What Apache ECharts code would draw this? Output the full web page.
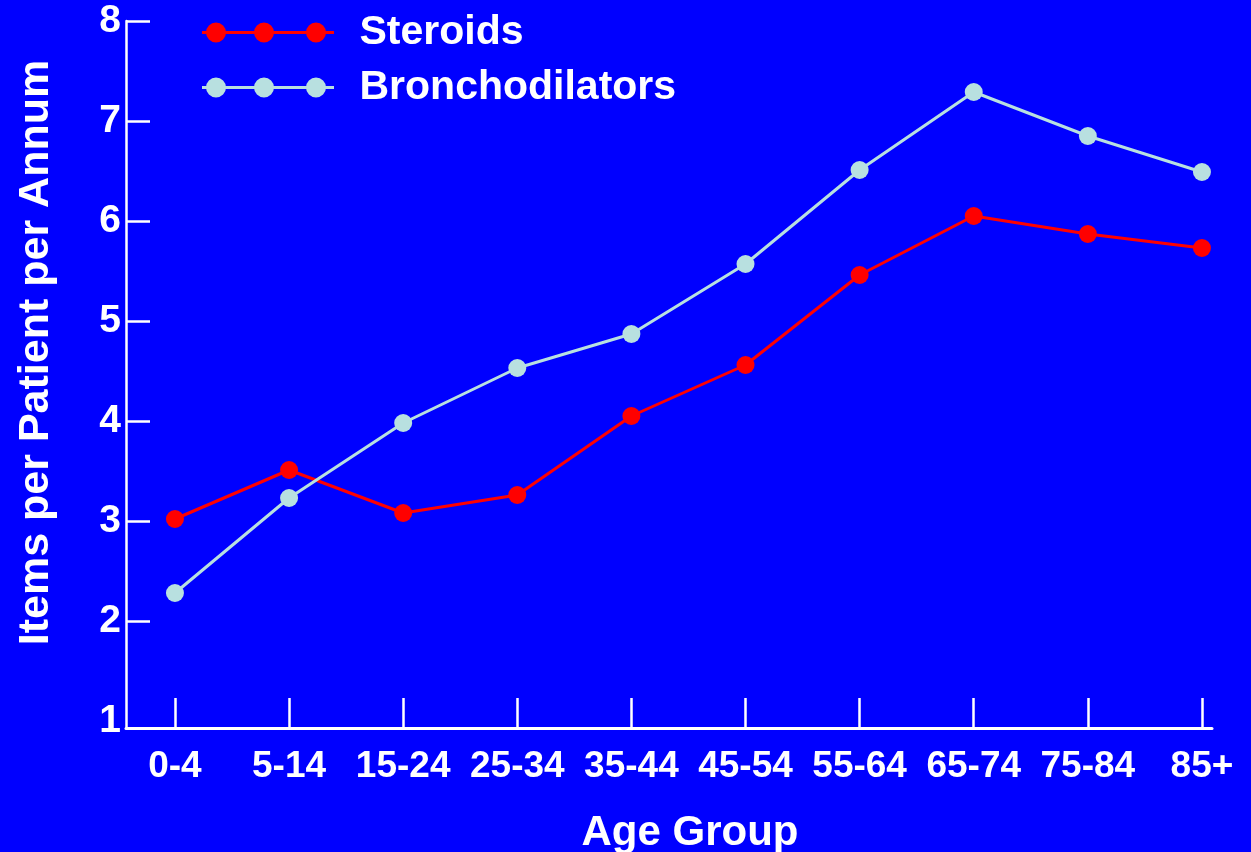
<!DOCTYPE html>
<html>
<head>
<meta charset="utf-8">
<script src="https://cdn.jsdelivr.net/npm/echarts@6/dist/echarts.min.js"></script>
<style>
html,body{margin:0;padding:0;background:#0000ff;}
#chart{width:1251px;height:852px;}
</style>
</head>
<body>
<div id="chart"></div>
<script>
const categories = ['0-4','5-14','15-24','25-34','35-44','45-54','55-64','65-74','75-84','85+'];
const steroids = [3.02, 3.51, 3.08, 3.26, 4.05, 4.56, 5.46, 6.05, 5.87, 5.73];
const bronchodilators = [2.28, 3.23, 3.98, 4.53, 4.87, 5.57, 6.51, 7.29, 6.85, 6.49];
const yTickLabels = [1, 2, 3, 4, 5, 6, 7, 8];
const yTicks = [2, 3, 4, 5, 6, 7, 8];

const FONT = '"Liberation Sans", Arial, Helvetica, sans-serif';
const legendIcon = 'path://M0 8.5H132V11.5H0Z M4 10A10 10 0 1 1 24 10A10 10 0 1 1 4 10Z M52 10A10 10 0 1 1 72 10A10 10 0 1 1 52 10Z M104 10A10 10 0 1 1 124 10A10 10 0 1 1 104 10Z';

const chart = echarts.init(document.getElementById('chart'), null, {renderer: 'canvas'});
chart.setOption({
  backgroundColor: '#0000ff',
  animation: false,
  textStyle: {fontFamily: FONT},
  grid: {left: 126, right: 39, top: 21, bottom: 124, containLabel: false, outerBoundsMode: 'none'},
  legend: {
    orient: 'vertical',
    left: 202,
    top: 12,
    padding: 0,
    itemWidth: 133,
    itemHeight: 20,
    itemGap: 14,
    icon: legendIcon,
    textStyle: {color: '#ffffff', fontSize: 41, fontWeight: 'bold', fontFamily: FONT, padding: [0, 0, 0, 20]},
    data: ['Steroids', 'Bronchodilators']
  },
  xAxis: {
    type: 'value',
    min: -0.429,
    max: 9.088,
    name: 'Age Group',
    nameLocation: 'middle',
    nameGap: 84,
    nameTextStyle: {color: '#ffffff', fontSize: 42, fontWeight: 'bold', fontFamily: FONT, padding: [0, 0, 0, 42]},
    splitLine: {show: false},
    axisLine: {show: true, onZero: false, lineStyle: {color: '#ffffff', width: 3}},
    axisTick: {show: true, inside: true, length: 30, lineStyle: {color: '#ffffff', width: 2.5}, customValues: categories.map((c, i) => i)},
    axisLabel: {
      color: '#ffffff', fontSize: 37, fontWeight: 'bold', fontFamily: FONT, margin: 20,
      customValues: categories.map((c, i) => i),
      formatter: v => categories[Math.round(v)]
    }
  },
  yAxis: {
    type: 'value',
    min: 0.93,
    max: 8,
    name: 'Items per Patient per Annum',
    nameLocation: 'middle',
    nameRotate: 90,
    nameGap: 68,
    nameTextStyle: {color: '#ffffff', fontSize: 43, fontWeight: 'bold', fontFamily: FONT, padding: [0, 0, 0, 44]},
    splitLine: {show: false},
    axisLine: {show: true, onZero: false, lineStyle: {color: '#ffffff', width: 2.5}},
    axisTick: {show: true, inside: true, length: 24, lineStyle: {color: '#ffffff', width: 2.5}, customValues: yTicks},
    axisLabel: {color: '#ffffff', fontSize: 39, fontWeight: 'bold', fontFamily: FONT, margin: 5, customValues: yTickLabels}
  },
  series: [
    {
      name: 'Steroids',
      type: 'line',
      data: steroids.map((v, i) => [i, v]),
      symbol: 'circle',
      symbolSize: 18,
      color: '#ff0000',
      lineStyle: {color: '#ff0000', width: 3},
      itemStyle: {color: '#ff0000'}
    },
    {
      name: 'Bronchodilators',
      type: 'line',
      data: bronchodilators.map((v, i) => [i, v]),
      symbol: 'circle',
      symbolSize: 18,
      color: '#b8e0e0',
      lineStyle: {color: '#b8e0e0', width: 3},
      itemStyle: {color: '#b8e0e0'}
    }
  ]
});
</script>
</body>
</html>
